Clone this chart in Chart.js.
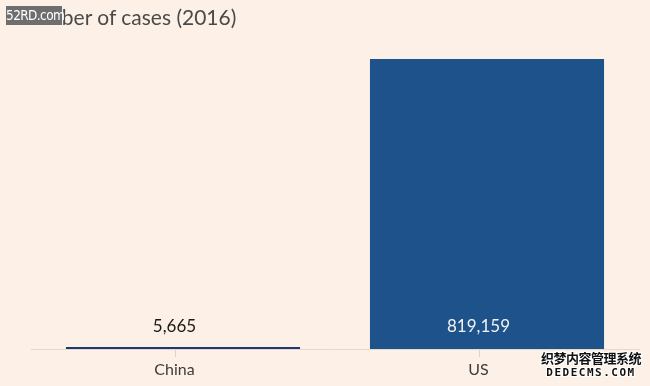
<!DOCTYPE html>
<html>
<head>
<meta charset="utf-8">
<script src="https://cdn.jsdelivr.net/npm/chart.js@4/dist/chart.umd.min.js"></script>
<style>
  body { margin: 0; background: #fdf0e6; }
  #wrap { position: relative; width: 650px; height: 386px; }
  .title { position: absolute; left: 17px; top: 4px; color: #4a4a4a; font: 21px Lato, "Open Sans", sans-serif; }
  .wm1 { position: absolute; left: 6px; top: 6px; width: 56px; height: 19px; background: #6e6e6e;
         color: #fff; font: 13.5px "DejaVu Sans Condensed", "DejaVu Sans", sans-serif; line-height: 19px; text-align: center; letter-spacing: -0.6px; }
  .wm2 { position: absolute; left: 541px; top: 350px; width: 100px; color: #111; font-weight: bold;
         text-shadow: -1px -1px 0 #fff, 1px -1px 0 #fff, -1px 1px 0 #fff, 1px 1px 0 #fff; text-align: center; }
  .wm2 .a { font: bold 13px "Noto Sans CJK SC", sans-serif; line-height: 16px; letter-spacing: -0.5px; }
  .wm2 .b { font: bold 11px "DejaVu Sans Mono", monospace; line-height: 13px; letter-spacing: 1.5px; }
</style>
</head>
<body>
<div id="wrap">
  <canvas id="chart" width="650" height="386"></canvas>
  <div class="title">Number of cases (2016)</div>
  <div class="wm1">52RD.com</div>
  <div class="wm2"><div class="a">织梦内容管理系统</div><div class="b">DEDECMS.COM</div></div>
</div>
<script>
const categories = ['China', 'US'];
const cases = [5665, 819159];
const yMax = 870000;

// in the original the labels and ticks sit a little left of the bar centres
const shift = -8.5;

const valueLabels = {
    id: 'valueLabels',
    afterDatasetsDraw(chart) {
        const ctx = chart.ctx;
        const meta = chart.getDatasetMeta(0);
        const base = chart.scales.y.getPixelForValue(0);
        ctx.save();
        // small tick marks under the axis
        ctx.strokeStyle = '#ddd3c9';
        ctx.lineWidth = 1;
        meta.data.forEach(bar => {
            const x = Math.round(bar.x + shift) + 0.5;
            ctx.beginPath();
            ctx.moveTo(x, base + 1);
            ctx.lineTo(x, base + 8);
            ctx.stroke();
        });
        ctx.font = '17px Lato, "Open Sans", sans-serif';
        ctx.textAlign = 'center';
        ctx.textBaseline = 'middle';
        meta.data.forEach((bar, i) => {
            const inside = (base - bar.y) > 40;
            ctx.fillStyle = inside ? '#f2f2f2' : '#1a1a1a';
            ctx.fillText(cases[i].toLocaleString('en-US'), bar.x + shift, base - 22);
        });
        ctx.restore();
    }
};

new Chart(document.getElementById('chart').getContext('2d'), {
    type: 'bar',
    data: {
        labels: categories,
        datasets: [{
            data: cases,
            backgroundColor: ['#1c3a6e', '#1d528a'],
            barPercentage: 0.77,
            categoryPercentage: 1
        }]
    },
    options: {
        responsive: false,
        animation: false,
        layout: { padding: { left: 31, right: 11, top: 41, bottom: -5 } },
        plugins: {
            legend: { display: false },
            tooltip: { enabled: false }
        },
        scales: {
            x: {
                grid: { display: false, drawTicks: false },
                border: { display: true, color: '#e3d9cf' },
                ticks: {
                    color: '#3c3c3c',
                    font: { family: 'Lato, "Open Sans", sans-serif', size: 16, lineHeight: 1 },
                    padding: 13,
                    labelOffset: shift
                }
            },
            y: {
                display: false,
                min: 0,
                max: yMax
            }
        }
    },
    plugins: [valueLabels]
});
</script>
</body>
</html>
